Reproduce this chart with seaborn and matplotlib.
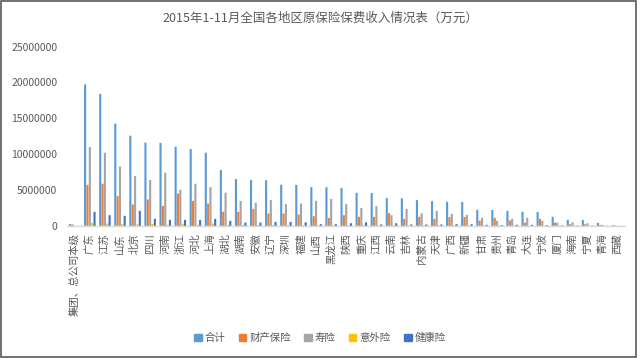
import numpy as np
import pandas as pd
import matplotlib
matplotlib.use("Agg")
import matplotlib.pyplot as plt
import seaborn as sns
from matplotlib.patches import Rectangle

regions = ["集团、总公司本级", "广东", "江苏", "山东", "北京", "四川", "河南", "浙江", "河北", "上海",
           "湖北", "湖南", "安徽", "辽宁", "深圳", "福建", "山西", "黑龙江", "陕西", "重庆",
           "江西", "云南", "吉林", "内蒙古", "天津", "广西", "新疆", "甘肃", "贵州", "青岛",
           "大连", "宁波", "厦门", "海南", "宁夏", "青海", "西藏"]

total = [250000, 19730000, 18400000, 14250000, 12570000, 11600000, 11580000, 11030000, 10700000, 10200000,
         7800000, 6530000, 6390000, 6370000, 5740000, 5720000, 5410000, 5390000, 5260000, 4610000,
         4590000, 3880000, 3860000, 3590000, 3450000, 3360000, 3340000, 2240000, 2220000, 2100000,
         1970000, 1950000, 1260000, 850000, 830000, 420000, 100000]
property_ins = [200000, 5730000, 5870000, 4140000, 2980000, 3680000, 2790000, 4500000, 3490000, 3120000,
                1980000, 1960000, 2370000, 1720000, 1720000, 1580000, 1350000, 1100000, 1490000, 1260000,
                1260000, 1770000, 980000, 1260000, 980000, 1230000, 1260000, 740000, 1120000, 740000,
                460000, 980000, 460000, 240000, 240000, 140000, 60000]
life_ins = [30000, 11000000, 10200000, 8290000, 6940000, 6420000, 7400000, 5030000, 5870000, 5400000,
            4630000, 3490000, 3230000, 3630000, 3030000, 3120000, 3490000, 3770000, 3030000, 2510000,
            2750000, 1490000, 2370000, 1770000, 2100000, 1680000, 1540000, 1120000, 700000, 980000,
            1120000, 700000, 460000, 510000, 370000, 140000, 20000]
accident_ins = [0, 420000, 330000, 240000, 200000, 250000, 150000, 300000, 150000, 330000,
                150000, 120000, 120000, 100000, 120000, 100000, 80000, 70000, 80000, 100000,
                70000, 80000, 50000, 60000, 60000, 70000, 50000, 40000, 50000, 40000,
                40000, 50000, 30000, 30000, 20000, 10000, 10000]
health_ins = [10000, 1960000, 1490000, 1400000, 2100000, 980000, 840000, 840000, 840000, 980000,
              700000, 460000, 460000, 560000, 560000, 500000, 240000, 240000, 370000, 500000,
              200000, 370000, 200000, 200000, 200000, 240000, 240000, 150000, 120000, 150000,
              150000, 100000, 80000, 60000, 50000, 30000, 10000]

series_names = ["合计", "财产保险", "寿险", "意外险", "健康险"]
colors = ["#5B9BD5", "#ED7D31", "#A5A5A5", "#FFC000", "#4472C4"]
title = "2015年1-11月全国各地区原保险保费收入情况表（万元）"

wide = pd.DataFrame({"地区": regions, "合计": total, "财产保险": property_ins,
                     "寿险": life_ins, "意外险": accident_ins, "健康险": health_ins})
long = wide.melt(id_vars="地区", var_name="险种", value_name="保费")

sns.set_style("white")
plt.rcParams["font.family"] = ["Noto Sans CJK SC", "DejaVu Sans"]

fig = plt.figure(figsize=(6.4, 3.58), dpi=100)
ax = fig.add_axes([0.105, 0.369, 0.872, 0.501])

sns.barplot(data=long, x="地区", y="保费", hue="险种", hue_order=series_names,
            order=regions, palette=colors, width=0.78, gap=0.1, ax=ax,
            saturation=1, legend=True)
for p in ax.patches:
    p.set_linewidth(0)
    p.set_snap(False)
    p.set_antialiased(True)

ax.set_ylim(0, 25000000)
ax.set_xlim(-0.5, len(regions) - 0.5)
ax.set_yticks(np.arange(0, 25000001, 5000000))
ax.set_yticklabels([f"{int(v)}" for v in np.arange(0, 25000001, 5000000)])
ax.set_xlabel("")
ax.set_ylabel("")
ax.tick_params(axis="y", length=0, pad=7, labelsize=7.5, labelcolor="#595959")
ax.tick_params(axis="x", length=0, pad=5, labelsize=7.5, labelcolor="#595959")
for lbl in ax.get_xticklabels():
    lbl.set_rotation(90)
    lbl.set_va("top")
    lbl.set_ha("center")
for s in ["top", "right", "left"]:
    ax.spines[s].set_visible(False)
ax.spines["bottom"].set_color("#D9D9D9")
ax.spines["bottom"].set_linewidth(1)

ax.legend_.remove()
handles = [Rectangle((0, 0), 1, 1, color=c) for c in colors]
fig.legend(handles, series_names, loc="center", bbox_to_anchor=(0.5, 0.055), ncol=5,
           frameon=False, fontsize=7.5, handlelength=0.7, handleheight=0.7,
           handletextpad=0.3, columnspacing=1.3, labelcolor="#595959")

fig.text(0.5, 0.948, title, ha="center", va="center", fontsize=9, color="#595959")

fig.patches.append(Rectangle((0.0015, 0.002), 0.992, 0.996, transform=fig.transFigure,
                             fill=False, edgecolor="#595959", linewidth=1.2))

fig.savefig("out.png", dpi=100, facecolor="white")
